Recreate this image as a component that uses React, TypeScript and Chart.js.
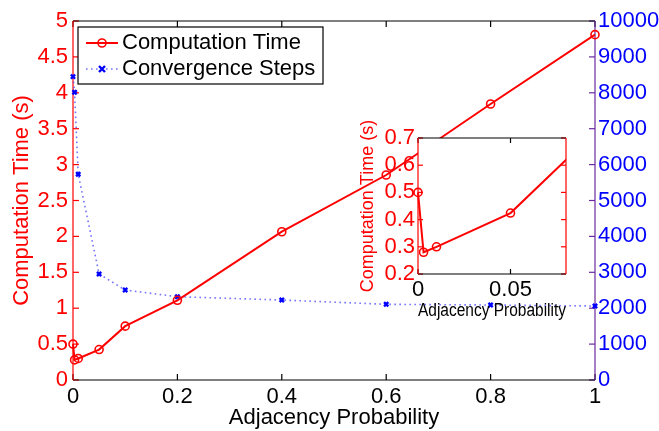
import React, { useEffect, useRef } from 'react';
import { Chart, registerables } from 'chart.js';

Chart.register(...registerables);

// ---- data ----
const adjacencyProb = [0, 0.003, 0.01, 0.05, 0.1, 0.2, 0.4, 0.6, 0.8, 1];
const computationTime = [0.5, 0.28, 0.3, 0.424, 0.75, 1.11, 2.065, 2.855, 3.844, 4.81];
const convergenceSteps = [8450, 8013, 5730, 2953, 2507, 2320, 2228, 2108, 2089, 2061];

const xTicks = [0, 0.2, 0.4, 0.6, 0.8, 1];
const timeTicks = [0, 0.5, 1, 1.5, 2, 2.5, 3, 3.5, 4, 4.5, 5];
const stepTicks = [0, 1000, 2000, 3000, 4000, 5000, 6000, 7000, 8000, 9000, 10000];
const insetXTicks = [0, 0.05];
const insetTimeTicks = [0.2, 0.3, 0.4, 0.5, 0.6, 0.7];

const seriesNames = ['Computation Time', 'Convergence Steps'];
const xTitle = 'Adjacency Probability';
const yTitle = 'Computation Time (s)';

const FONT = '"Liberation Sans", Arial, Helvetica, sans-serif';
const RED = '#ff0000';
const BLUE = '#0000ff';
const PURPLE = '#6a2aa0';

const fmt = (v: number) => String(Math.round(v * 10000) / 10000);
const setTicks = (vals: number[]) => (scale: any) => {
  scale.ticks = vals.map((v) => ({ value: v }));
};

const framePlugin = {
  id: 'frame',
  beforeDatasetsDraw(chart: any, _a: any, o: any) {
    const { ctx, chartArea: a, scales } = chart;
    ctx.save();
    if (o.fill) {
      ctx.fillStyle = o.fill;
      ctx.fillRect(a.left, a.top, a.right - a.left, a.bottom - a.top);
    }
    const seg = (x1: number, y1: number, x2: number, y2: number, c: string, w: number) => {
      ctx.beginPath();
      ctx.strokeStyle = c;
      ctx.lineWidth = w;
      ctx.moveTo(x1, y1);
      ctx.lineTo(x2, y2);
      ctx.stroke();
    };
    const L = o.tickLen;
    const xs = scales.x;
    for (const t of xs.ticks) {
      const p = xs.getPixelForValue(t.value);
      seg(p, a.bottom, p, a.bottom - L, o.bottom, o.w);
      seg(p, a.top, p, a.top + L, o.top, o.w);
    }
    const yl = scales.y;
    for (const t of yl.ticks) {
      const p = yl.getPixelForValue(t.value);
      seg(a.left, p, a.left + L, p, o.left, o.w);
    }
    const yr = scales[o.rightScale];
    for (const t of yr.ticks) {
      const p = yr.getPixelForValue(t.value);
      seg(a.right, p, a.right - L, p, o.right, o.w);
    }
    seg(a.left, a.top, a.right, a.top, o.top, o.w);
    seg(a.left, a.bottom, a.right, a.bottom, o.bottom, o.w);
    seg(a.left, a.top, a.left, a.bottom, o.left, o.w);
    seg(a.right, a.top, a.right, a.bottom, o.right, o.w);
    ctx.restore();
  },
};

const drawMarker = (ctx: CanvasRenderingContext2D, ds: any, x: number, y: number) => {
  ctx.save();
  ctx.setLineDash([]);
  ctx.strokeStyle = ds.pointBorderColor;
  ctx.lineWidth = ds.pointBorderWidth;
  const r = ds.pointRadius;
  ctx.beginPath();
  if (ds.pointStyle === 'crossRot') {
    ctx.moveTo(x - r, y - r);
    ctx.lineTo(x + r, y + r);
    ctx.moveTo(x + r, y - r);
    ctx.lineTo(x - r, y + r);
  } else {
    ctx.arc(x, y, r, 0, Math.PI * 2);
  }
  ctx.stroke();
  ctx.restore();
};

const legendPlugin = {
  id: 'boxLegend',
  afterDraw(chart: any, _a: any, o: any) {
    const { ctx } = chart;
    ctx.save();
    ctx.fillStyle = '#ffffff';
    ctx.fillRect(o.x, o.y, o.w, o.h);
    ctx.strokeStyle = '#000000';
    ctx.lineWidth = 1.2;
    ctx.strokeRect(o.x, o.y, o.w, o.h);
    chart.data.datasets.forEach((ds: any, i: number) => {
      const cy = o.firstY + i * o.rowH;
      ctx.save();
      ctx.strokeStyle = ds.borderColor;
      ctx.lineWidth = ds.borderWidth;
      ctx.setLineDash(ds.borderDash || []);
      ctx.beginPath();
      ctx.moveTo(o.sx1, cy);
      ctx.lineTo(o.sx2, cy);
      ctx.stroke();
      ctx.restore();
      drawMarker(ctx, ds, (o.sx1 + o.sx2) / 2, cy);
      ctx.fillStyle = '#000000';
      ctx.font = `22px ${FONT}`;
      ctx.textBaseline = 'middle';
      ctx.textAlign = 'left';
      ctx.fillText(ds.label, o.tx, cy);
    });
    ctx.restore();
  },
};

const timeDataset = () => ({
  label: seriesNames[0],
  data: adjacencyProb.map((x, i) => ({ x, y: computationTime[i] })),
  borderColor: RED,
  borderWidth: 2,
  pointStyle: 'circle',
  pointRadius: 4,
  pointBorderWidth: 1.6,
  pointBorderColor: RED,
  pointBackgroundColor: 'rgba(0,0,0,0)',
  yAxisID: 'y',
});

export default function App() {
  const mainRef = useRef<HTMLCanvasElement>(null);
  const insetRef = useRef<HTMLCanvasElement>(null);

  useEffect(() => {
    const tickFont = { family: FONT, size: 22 };
    const main = new Chart(mainRef.current as HTMLCanvasElement, {
      type: 'line',
      data: {
        datasets: [
          { ...timeDataset(), clip: false } as any,
          {
            label: seriesNames[1],
            data: adjacencyProb.map((x, i) => ({ x, y: convergenceSteps[i] })),
            borderColor: 'rgba(70,70,255,0.75)',
            borderWidth: 1.6,
            borderDash: [1.6, 3.4],
            pointStyle: 'crossRot',
            pointRadius: 3,
            pointBorderWidth: 2.4,
            pointBorderColor: BLUE,
            pointBackgroundColor: BLUE,
            yAxisID: 'y2',
            clip: false,
          } as any,
        ],
      },
      options: {
        responsive: false,
        animation: false,
        layout: { padding: { top: 21, left: 0, right: 0, bottom: 0 } },
        plugins: {
          legend: { display: false },
          tooltip: { enabled: false },
          frame: { tickLen: 6, w: 1.2, top: '#000', bottom: '#000', left: RED, right: PURPLE, rightScale: 'y2' },
          boxLegend: { x: 78, y: 27, w: 245, h: 57, firstY: 43, rowH: 26, sx1: 86, sx2: 118, tx: 122 },
        } as any,
        scales: {
          x: {
            type: 'linear',
            min: 0,
            max: 1,
            afterBuildTicks: setTicks(xTicks),
            afterFit: (s: any) => { s.height = 51; },
            grid: { display: false, drawTicks: false },
            border: { display: false },
            ticks: { color: '#000', font: tickFont, padding: 4, maxRotation: 0, autoSkip: false, callback: (v: any) => fmt(v) },
            title: { display: true, text: xTitle, color: '#000', font: { family: FONT, size: 22 }, padding: { top: 0, bottom: 0 } },
          },
          y: {
            type: 'linear',
            position: 'left',
            min: 0,
            max: 5,
            afterBuildTicks: setTicks(timeTicks),
            afterFit: (s: any) => { s.width = 73; },
            grid: { display: false, drawTicks: false },
            border: { display: false },
            ticks: { color: RED, font: tickFont, padding: 5, autoSkip: false, callback: (v: any) => fmt(v) },
            title: { display: true, text: yTitle, color: RED, font: { family: FONT, size: 22 }, padding: { top: 9, bottom: 0 } },
          },
          y2: {
            type: 'linear',
            position: 'right',
            min: 0,
            max: 10000,
            afterBuildTicks: setTicks(stepTicks),
            afterFit: (s: any) => { s.width = 64; },
            grid: { display: false, drawTicks: false },
            border: { display: false },
            ticks: { color: BLUE, font: tickFont, padding: 3, autoSkip: false, callback: (v: any) => fmt(v) },
          },
        } as any,
      },
      plugins: [framePlugin, legendPlugin],
    });

    const inset = new Chart(insetRef.current as HTMLCanvasElement, {
      type: 'line',
      data: {
        datasets: [{ ...timeDataset(), clip: { left: 8, right: 0, top: 0, bottom: 8 } } as any],
      },
      options: {
        responsive: false,
        animation: false,
        layout: { padding: { top: 28, left: 0, right: 14, bottom: 0 } },
        plugins: {
          legend: { display: false },
          tooltip: { enabled: false },
          frame: { fill: '#ffffff', tickLen: 5, w: 1.2, top: '#000', bottom: '#000', left: RED, right: RED, rightScale: 'y' },
        } as any,
        scales: {
          x: {
            type: 'linear',
            min: 0,
            max: 0.08,
            afterBuildTicks: setTicks(insetXTicks),
            afterFit: (s: any) => { s.height = 51; },
            grid: { display: false, drawTicks: false },
            border: { display: false },
            ticks: { color: '#000', font: tickFont, padding: 3, maxRotation: 0, autoSkip: false, callback: (v: any) => fmt(v) },
            title: { display: true, text: xTitle, color: '#000', font: { family: FONT, size: 18 }, padding: { top: 0, bottom: 3 } },
          },
          y: {
            type: 'linear',
            position: 'left',
            min: 0.2,
            max: 0.7,
            afterBuildTicks: setTicks(insetTimeTicks),
            afterFit: (s: any) => { s.width = 78; },
            grid: { display: false, drawTicks: false },
            border: { display: false },
            ticks: { color: RED, font: tickFont, padding: 3, autoSkip: false, callback: (v: any) => fmt(v) },
            title: { display: true, text: yTitle, color: RED, font: { family: FONT, size: 18 }, padding: { top: 17, bottom: 0 } },
          },
        } as any,
      },
      plugins: [framePlugin],
    });

    return () => {
      main.destroy();
      inset.destroy();
    };
  }, []);

  return (
    <div style={{ position: 'absolute', left: 0, top: 0, width: 659, height: 431, background: '#fff' }}>
      <canvas ref={mainRef} width={659} height={431} style={{ position: 'absolute', left: 0, top: 0 }} />
      <canvas ref={insetRef} width={240} height={215} style={{ position: 'absolute', left: 340, top: 110 }} />
    </div>
  );
}
